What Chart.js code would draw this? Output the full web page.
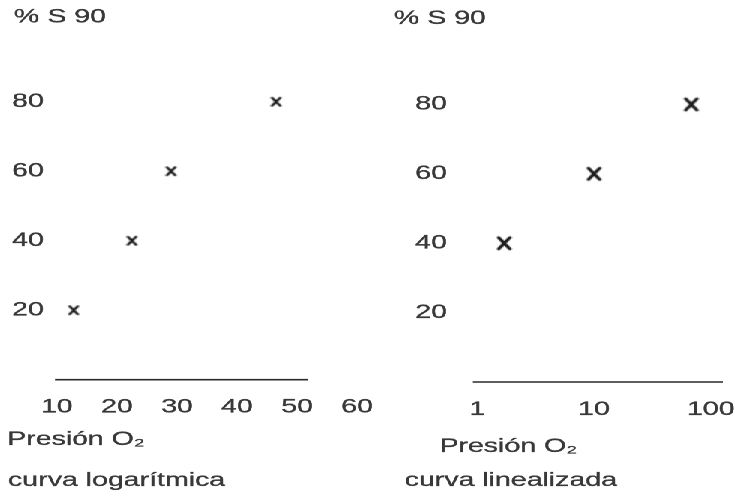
<!DOCTYPE html>
<html lang="es">
<head>
<meta charset="utf-8">
<title>Curvas de saturación</title>
<script src="https://cdn.jsdelivr.net/npm/chart.js@4/dist/chart.umd.min.js"></script>
<style>
  html, body { margin: 0; padding: 0; background: #fff; overflow: hidden; }
  #lienzo {
    position: absolute; left: 0; top: 0;
    width: 490px; height: 501px;
    transform: scaleX(1.5); transform-origin: 0 0;
  }
  #lienzo canvas { position: absolute; top: 0; }
  #izq { left: 0; }
  #der { left: 250px; }
</style>
</head>
<body>
<div id="lienzo">
  <canvas id="izq" width="260" height="501"></canvas>
  <canvas id="der" width="240" height="501"></canvas>
</div>
<script>
// Curva logarítmica: presión de O2 frente a % de saturación
const presionLog = [12.8, 22.5, 29.0, 46.5];
const saturacionLog = [20, 40, 60, 80];
// Curva linealizada (eje de presión logarítmico)
const presionLin = [1.7, 10, 68];
const saturacionLin = [40, 60, 80];
// Marcas de los ejes
const ticksY = [20, 40, 60, 80];
const ticksXLog = [10, 20, 30, 40, 50, 60];
const ticksXLin = [1, 10, 100];
// Tramo dibujado del eje horizontal (presión)
const ejeLog = [9.7, 51.8];
const ejeLin = [0.915, 127];

const tituloY = '% S 90';
const tituloX = 'Presión O₂';
const rotuloLog = 'curva logarítmica';
const rotuloLin = 'curva linealizada';

const FUENTE = '"Liberation Sans", Arial, Helvetica, sans-serif';
const TINTA = '#383838';
const TRAZO = 0.3;

// Cruz para los puntos, comprimida en horizontal para compensar el estirado del lienzo
function marcaX(ancho, alto, grosor) {
  const c = document.createElement('canvas');
  c.width = Math.ceil(ancho + grosor * 2);
  c.height = Math.ceil(alto + grosor * 2);
  const g = c.getContext('2d');
  g.strokeStyle = '#1e1e1e';
  g.lineWidth = grosor;
  g.lineCap = 'round';
  const x0 = (c.width - ancho) / 2, y0 = (c.height - alto) / 2;
  g.beginPath();
  g.moveTo(x0, y0); g.lineTo(x0 + ancho, y0 + alto);
  g.moveTo(x0 + ancho, y0); g.lineTo(x0, y0 + alto);
  g.stroke();
  return c;
}

// Rótulos libres (unidad del eje Y, nombre del eje X y pie de cada curva)
const rotulos = {
  id: 'rotulos',
  afterDraw(chart, args, opts) {
    const ctx = chart.ctx;
    ctx.save();
    ctx.font = opts.size + 'px ' + FUENTE;
    ctx.fillStyle = TINTA;
    ctx.strokeStyle = TINTA;
    ctx.lineWidth = TRAZO;
    ctx.textBaseline = 'middle';
    for (const t of opts.items) {
      ctx.textAlign = t.align || 'left';
      ctx.strokeText(t.text, t.x, t.y);
      ctx.fillText(t.text, t.x, t.y);
    }
    ctx.restore();
  }
};

function fijarTicks(valores) {
  return scale => { scale.ticks = valores.map(v => ({ value: v })); };
}
function ajustar(tam, horizontal) {
  return scale => {
    if (horizontal) scale.height = tam; else scale.width = tam;
    scale.paddingLeft = 0; scale.paddingRight = 0;
    scale.paddingTop = 0; scale.paddingBottom = 0;
  };
}

function crearPanel(id, cfg) {
  return new Chart(document.getElementById(id), {
    type: 'scatter',
    data: {
      datasets: [
        {
          data: cfg.x.map((v, i) => ({ x: v, y: cfg.y[i] })),
          pointStyle: cfg.marca,
          pointRadius: 6,
          pointHoverRadius: 6,
          showLine: false
        },
        {
          data: cfg.eje.map(v => ({ x: v, y: 0 })),
          showLine: true,
          borderColor: '#2a2a2a',
          borderWidth: 1.6,
          pointRadius: 0,
          clip: false
        }
      ]
    },
    options: {
      responsive: false,
      animation: false,
      devicePixelRatio: 2,
      events: [],
      layout: { padding: cfg.padding },
      plugins: {
        legend: { display: false },
        tooltip: { enabled: false },
        rotulos: { size: 19, items: cfg.rotulos }
      },
      scales: {
        x: {
          type: cfg.tipoX,
          min: cfg.minX,
          max: cfg.maxX,
          afterBuildTicks: fijarTicks(cfg.ticksX),
          afterFit: ajustar(45, true),
          border: { display: false },
          grid: {
            display: true, drawOnChartArea: false, drawTicks: true,
            tickLength: cfg.separacionX, color: 'rgba(0,0,0,0)'
          },
          ticks: {
            padding: 0, maxRotation: 0, autoSkip: false,
            color: TINTA, textStrokeColor: TINTA, textStrokeWidth: TRAZO,
            font: { family: FUENTE, size: 19 },
            callback: v => String(v)
          }
        },
        y: {
          min: 0,
          max: 90,
          afterBuildTicks: fijarTicks(ticksY),
          afterFit: ajustar(cfg.anchoY, false),
          border: { display: false },
          grid: { display: false },
          ticks: {
            padding: 0, crossAlign: 'far',
            color: TINTA, textStrokeColor: TINTA, textStrokeWidth: TRAZO,
            font: { family: FUENTE, size: 19 }
          }
        }
      }
    },
    plugins: [rotulos]
  });
}

crearPanel('izq', {
  x: presionLog, y: saturacionLog, eje: ejeLog,
  tipoX: 'linear', minX: 9.7, maxX: 60, ticksX: ticksXLog,
  marca: marcaX(5.4, 8, 2),
  padding: { left: 8, right: 22, top: 67, bottom: 76.3 },
  anchoY: 28.6, separacionX: 16,
  rotulos: [
    { text: tituloY, x: 9.3, y: 17.5 },
    { text: tituloX, x: 4.7, y: 440 },
    { text: rotuloLog, x: 5.3, y: 481 }
  ]
});

crearPanel('der', {
  x: presionLin, y: saturacionLin, eje: ejeLin,
  tipoX: 'logarithmic', minX: 0.915, maxX: 127, ticksX: ticksXLin,
  marca: marcaX(7.6, 11.5, 2.4),
  padding: { left: 26.9, right: 8, top: 69.7, bottom: 74 },
  anchoY: 38.4, separacionX: 16.6,
  rotulos: [
    { text: tituloY, x: 12.7, y: 19 },
    { text: tituloX, x: 89, y: 447, align: 'center' },
    { text: rotuloLin, x: 90.7, y: 481, align: 'center' }
  ]
});
</script>
</body>
</html>
